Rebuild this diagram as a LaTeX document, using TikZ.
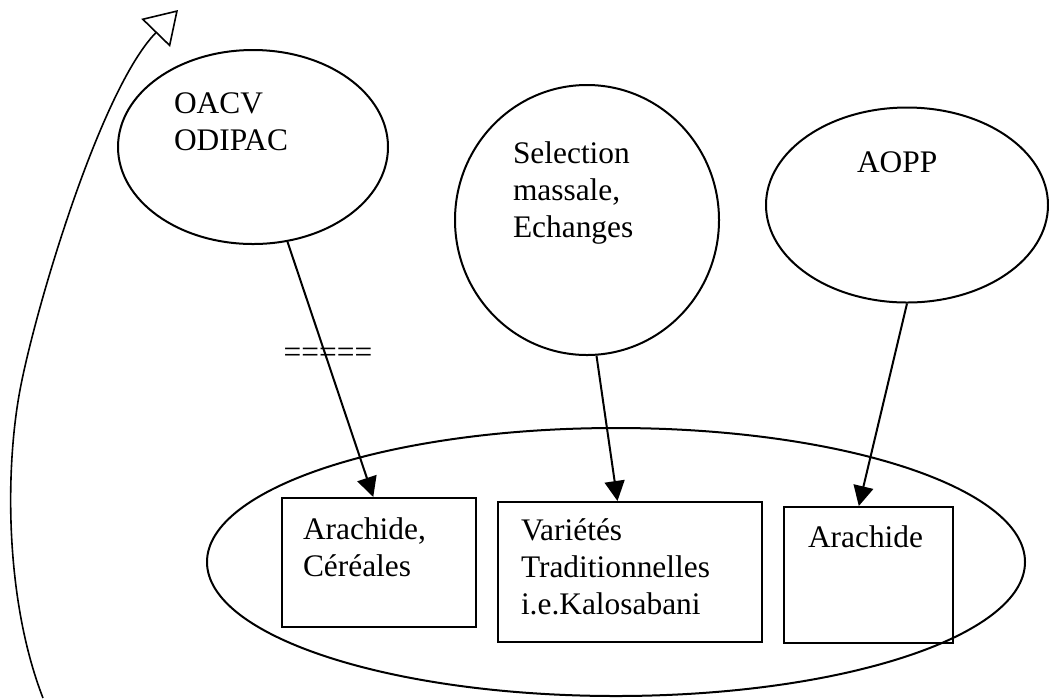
\documentclass[tikz,border=0pt]{standalone}
\usepackage{fontspec}
\setmainfont{Liberation Serif}
\usetikzlibrary{arrows.meta,shapes.geometric}

\begin{document}
\begin{tikzpicture}
  [x=0.5pt,y=-0.5pt,line width=1pt,
   grp/.style={draw,ellipse,inner sep=0pt},
   crop/.style={draw,rectangle,inner sep=0pt},
   txt/.style={anchor=base west,align=left,inner sep=0pt,font=\fontsize{15.7}{18.5}\selectfont},
   link/.style={-{Triangle[length=10pt,width=10pt]}}]
  \useasboundingbox (0,0) rectangle (1049,698);
  \node[grp,minimum width=409pt,minimum height=134pt] (zone) at (616,562) {};
  \node[grp,minimum width=135pt,minimum height=97pt] (oacv) at (253,147) {};
  \node[grp,minimum width=132pt,minimum height=135pt] (sel) at (587,220) {};
  \node[grp,minimum width=141pt,minimum height=97.5pt] (aopp) at (907,205) {};
  \node[crop,minimum width=97pt,minimum height=64.5pt] (ara) at (379,562.5) {};
  \node[crop,minimum width=132pt,minimum height=70pt] (var) at (630,572) {};
  \node[crop,minimum width=84.5pt,minimum height=68pt] (arb) at (868.5,575) {};
  \node[txt] (toacv) at (173,150) {OACV\\ODIPAC};
  \node[txt] (tsel) at (512,237) {Selection\\massale,\\Echanges};
  \node[txt] (taopp) at (856,172) {AOPP};
  \node[txt] (tara) at (302,576) {Arachide,\\Céréales};
  \node[txt] (tvar) at (520,614) {Variétés\\Traditionnelles\\i.e.Kalosabani};
  \node[txt] (tarb) at (807,547) {Arachide};
  \node[txt,anchor=center] (eq) at (328,355) {=====};
  \foreach \from/\to in {oacv.-70/ara.95,sel.-86/var.100,aopp.south/arb.98}
    \draw[link] (\from) -- (\to);
  \coordinate (loopa) at (43,698);
  \coordinate (loopb) at (178,10);
  \draw[line width=0.8pt,-{Triangle[open,length=16pt,width=20pt]}] (loopa) .. controls (5,600) and (5,470) .. (20,390) .. controls (35,310) and (100,90) .. (loopb);
\end{tikzpicture}
\end{document}
